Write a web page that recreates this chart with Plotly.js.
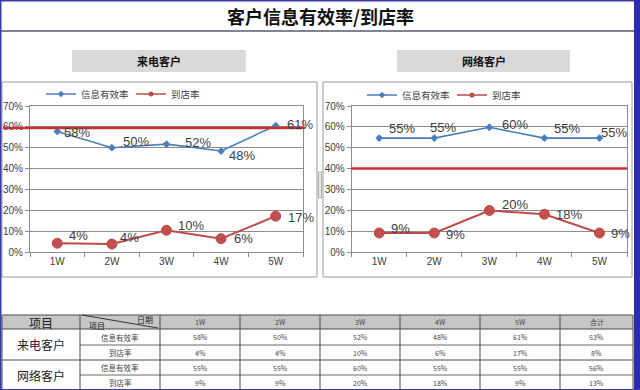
<!DOCTYPE html>
<html><head><meta charset="utf-8">
<script src="https://cdn.plot.ly/plotly-3.0.1.min.js"></script>
<style>html,body{margin:0;padding:0;background:#fff;}#chart{width:640px;height:390px;}</style>
</head><body><div id="chart"></div>
<script>
// ---- data ----
const weeks = ['1W', '2W', '3W', '4W', '5W'];
const seriesNames = ['信息有效率', '到店率'];
const groupNames = ['来电客户', '网络客户'];
const callInfoRate = [0.578, 0.500, 0.517, 0.484, 0.606];
const callVisitRate = [0.042, 0.038, 0.104, 0.064, 0.172];
const netInfoRate = [0.546, 0.546, 0.598, 0.546, 0.546];
const netVisitRate = [0.091, 0.091, 0.199, 0.181, 0.091];
const callTarget = [0.595];
const netTarget = [0.40];
const callTotals = [0.53, 0.08];
const netTotals = [0.56, 0.13];
const tableHeadLabels = ['项目', '日期', '合计'];
const chartTitle = '客户信息有效率/到店率';

// ---- style: label offsets (px) per point ----
const labelShift = {
  callInfo:  {dx: [5, 9, 16, 6, 9],  dy: [-1, 6, 2, -4, 1]},
  callVisit: {dx: [10, 6, 9, 11, 10], dy: [8, 7, 5, 0, -1]},
  netInfo:   {dx: [8, -6, 11, 8, 0], dy: [10, 11, 3, 10, 6]},
  netVisit:  {dx: [10, 10, 11, 10, 10], dy: [5, -1, 6, 0, 0]}
};

// ---- helpers ----
const W = 640, H = 390;
const X = p => p / W;
const Y = p => 1 - p / H;
const pct = v => Math.round(v * 100) + '%';
const numFont = 'Liberation Sans, Arial, Noto Sans CJK SC, sans-serif';
const cjkFont = 'Noto Sans CJK SC, sans-serif';
const BLUE = '#4a7ebb', RED = '#be4b48', TXT = '#404040';

const shapes = [];
const annotations = [];

function lineTrace(vals, name, xa, ya, isBlue, shift) {
  vals.forEach((v, i) => annotations.push({
    xref: xa, yref: ya, x: weeks[i], y: v, text: pct(v), showarrow: false,
    xanchor: 'left', yanchor: 'middle', xshift: shift.dx[i], yshift: shift.dy[i],
    font: {family: numFont, size: 13, color: TXT}
  }));
  return {
    type: 'scatter', mode: 'lines+markers', x: weeks, y: vals, name: name,
    xaxis: xa, yaxis: ya, showlegend: false,
    line: {color: isBlue ? BLUE : RED, width: isBlue ? 1.6 : 2},
    marker: isBlue ? {symbol: 'diamond', size: 6, color: BLUE} : {symbol: 'circle', size: 10, color: '#c0504d', line: {color: RED, width: 1}},
    cliponaxis: false, hoverinfo: 'skip'
  };
}
function legTrace(name, xa, ya, leg, isBlue) {
  return {
    type: 'scatter', mode: 'lines+markers', x: [null], y: [null], name: name,
    xaxis: xa, yaxis: ya, legend: leg, showlegend: true,
    line: {color: isBlue ? BLUE : RED, width: 1.6},
    marker: {symbol: isBlue ? 'diamond' : 'circle', size: 5, color: isBlue ? BLUE : RED}
  };
}
const data = [
  lineTrace(callInfoRate, seriesNames[0], 'x', 'y', true, labelShift.callInfo),
  lineTrace(callVisitRate, seriesNames[1], 'x', 'y', false, labelShift.callVisit),
  lineTrace(netInfoRate, seriesNames[0], 'x2', 'y2', true, labelShift.netInfo),
  lineTrace(netVisitRate, seriesNames[1], 'x2', 'y2', false, labelShift.netVisit),
  legTrace(seriesNames[0], 'x', 'y', 'legend', true),
  legTrace(seriesNames[1], 'x', 'y', 'legend', false),
  legTrace(seriesNames[0], 'x2', 'y2', 'legend2', true),
  legTrace(seriesNames[1], 'x2', 'y2', 'legend2', false)
];

const xAx = dom => ({
  domain: dom, type: 'category', range: [-0.5, 4.5], showgrid: false,
  showline: true, linecolor: '#8c8c8c', linewidth: 1, mirror: true,
  ticks: 'outside', tickson: 'boundaries', ticklen: 4, tickcolor: '#8c8c8c',
  tickfont: {family: numFont, size: 10, color: TXT}, fixedrange: true
});
const yAx = () => ({
  domain: [Y(252), Y(106)], range: [0, 0.7], dtick: 0.1, tickformat: '.0%',
  showgrid: true, gridcolor: '#8c8c8c', gridwidth: 1, zeroline: false,
  showline: true, linecolor: '#8c8c8c', linewidth: 1, mirror: true,
  ticks: 'outside', ticklen: 4, tickcolor: '#8c8c8c',
  tickfont: {family: numFont, size: 10, color: TXT}, fixedrange: true
});

function rect(x0, y0, x1, y1, fill, lc, lw, layer) {
  shapes.push({type: 'rect', xref: 'paper', yref: 'paper', x0: X(x0), x1: X(x1), y0: Y(y1), y1: Y(y0),
    fillcolor: fill || 'rgba(0,0,0,0)', line: {color: lc || 'rgba(0,0,0,0)', width: lw || 0}, layer: layer || 'below'});
}
function seg(x0, y0, x1, y1, c, w) {
  shapes.push({type: 'line', xref: 'paper', yref: 'paper', x0: X(x0), x1: X(x1), y0: Y(y0), y1: Y(y1),
    line: {color: c, width: w}, layer: 'above'});
}
function txt(x, y, t, size, color, bold, xa, ya) {
  annotations.push({xref: 'paper', yref: 'paper', x: X(x), y: Y(y), text: bold ? '<b>' + t + '</b>' : t,
    showarrow: false, xanchor: xa || 'center', yanchor: ya || 'middle',
    font: {family: cjkFont, size: size, color: color}});
}

// frame & title
rect(0, 0, 640, 390, '#ffffff', null, 0);
seg(1, 31, 634, 31, '#555a70', 1.5);
txt(320, 16, chartTitle, 18, '#111', true);
// sub headers
rect(72, 50, 246, 72, '#d9d9d9');
rect(397, 50, 570, 72, '#d9d9d9');
txt(159, 61, groupNames[0], 11, '#111', true);
txt(484, 61, groupNames[1], 11, '#111', true);
// chart frames
rect(2, 82, 317, 277, null, '#9a9a9a', 1);
rect(323, 82, 632, 277, null, '#9a9a9a', 1);
// small scroll marks between charts
rect(318.5, 172, 321.5, 198, '#e6e6e6', '#a0a0a0', 0.8);
// target lines
shapes.push({type: 'line', xref: 'paper', yref: 'y', x0: X(3), x1: X(305), y0: callTarget[0], y1: callTarget[0],
  line: {color: '#cc2f2f', width: 2.5}, layer: 'above'});
shapes.push({type: 'line', xref: 'paper', yref: 'y2', x0: X(351), x1: X(627), y0: netTarget[0], y1: netTarget[0],
  line: {color: '#cc2f2f', width: 2.5}, layer: 'above'});

// table
const colEdges = [2, 80, 160, 240, 320, 400, 480, 560, 633];
const rowEdges = [315, 329, 345, 360, 375, 390];
rect(2, 315, 633, 329, '#c6c6c6');
const lineC = '#4a4a4a';
[315, 329, 360, 390].forEach(y => seg(2, y, 633, y, lineC, 1));
[345, 375].forEach(y => seg(80, y, 633, y, '#6a6a6a', 1));
colEdges.forEach(x => seg(x, 315, x, 390, lineC, 1));
seg(82, 315, 158, 328, '#333', 1);
txt(41, 322, tableHeadLabels[0], 12, '#222');
txt(87, 325, tableHeadLabels[0], 8, '#222', false, 'left');
txt(155, 319, tableHeadLabels[1], 8, '#222', false, 'right');
const heads = weeks.concat([tableHeadLabels[2]]);
heads.forEach((h, i) => txt((colEdges[i + 2] + colEdges[i + 3]) / 2, 322, h, 7, '#444'));
const rows = [
  callInfoRate.concat([callTotals[0]]), callVisitRate.concat([callTotals[1]]),
  netInfoRate.concat([netTotals[0]]), netVisitRate.concat([netTotals[1]])
];
groupNames.forEach((g, i) => txt(41, (rowEdges[1 + 2 * i] + rowEdges[3 + 2 * i]) / 2, g, 12, '#222'));
rows.forEach((r, ri) => {
  const cy = (rowEdges[ri + 1] + rowEdges[ri + 2]) / 2;
  txt(120, cy, seriesNames[ri % 2], 7.5, '#444');
  r.forEach((v, ci) => txt((colEdges[ci + 2] + colEdges[ci + 3]) / 2, cy, pct(v), 7, '#444'));
});
// blue outer border
seg(0.75, 0, 0.75, 390, '#3a3aa8', 1.5);
seg(0, 0.75, 640, 0.75, '#3a3aa8', 1.5);
rect(634, 0, 640, 390, '#2c2cb0', null, 0, 'above');
seg(0, 389.5, 640, 389.5, '#3a3aa8', 1);

const legendCommon = {orientation: 'h', yanchor: 'middle', xanchor: 'left', bgcolor: 'rgba(0,0,0,0)',
  font: {family: cjkFont, size: 9.5, color: TXT}, itemwidth: 30, tracegroupgap: 0,
  entrywidth: 45, entrywidthmode: 'pixels'};
const layout = {
  width: W, height: H, margin: {l: 0, r: 0, t: 0, b: 0},
  paper_bgcolor: '#fff', plot_bgcolor: 'rgba(0,0,0,0)',
  xaxis: Object.assign(xAx([X(30), X(303)]), {anchor: 'y'}),
  yaxis: Object.assign(yAx(), {anchor: 'x'}),
  xaxis2: Object.assign(xAx([X(351.7), X(627)]), {anchor: 'y2'}),
  yaxis2: Object.assign(yAx(), {anchor: 'x2'}),
  legend: Object.assign({}, legendCommon, {x: X(41), y: Y(94)}),
  legend2: Object.assign({}, legendCommon, {x: X(362), y: Y(95)}),
  shapes: shapes, annotations: annotations, showlegend: true
};
Plotly.newPlot('chart', data, layout, {displayModeBar: false, staticPlot: true});
</script></body></html>
